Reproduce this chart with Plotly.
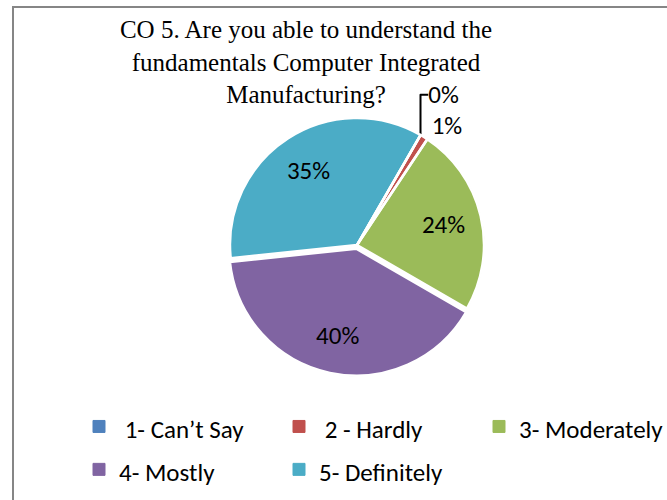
import plotly.graph_objects as go

labels = [" 1- Can\u2019t Say", " 2 - Hardly", "3- Moderately", "4- Mostly", "5- Definitely"]
values = [0, 1, 24, 40, 35]
colors = ["#4F81BD", "#C0504D", "#9BBB59", "#8064A2", "#4BACC6"]
title_text = "CO 5. Are you able to understand the<br>fundamentals Computer Integrated<br>Manufacturing?"

W, H = 667, 500
cx, cy, r = 357, 245, 127
pull = [0, 0, 0, 0.03, 0]
half = r * (1 + max(pull))
domain = dict(x=[(cx - half) / W, (cx + half) / W], y=[(H - cy - half) / H, (H - cy + half) / H])
sans = "Carlito, Lato, sans-serif"
legend_labels = ["<span style='font-size:25px'>%s</span>" % l for l in labels]
clear = ["rgba(0,0,0,0)"] * len(values)

common = dict(values=values, labels=legend_labels, sort=False, direction="clockwise",
              rotation=30, pull=pull, domain=domain)

fig = go.Figure()
# main pie: slices, legend and the two small outside labels
fig.add_trace(go.Pie(
    **common,
    marker=dict(colors=colors, line=dict(color=colors, width=1)),
    texttemplate="%{percent:.0%}",
    textposition=["outside", "outside", "none", "none", "none"],
    textfont=dict(family=sans, size=25, color="black"),
    showlegend=True,
    hoverinfo="percent",
))
# white slice separators
fig.add_trace(go.Pie(
    **common,
    marker=dict(colors=clear, line=dict(color="white", width=2.5)),
    textinfo="none",
    showlegend=False,
    hoverinfo="skip",
))
# transparent ring carrying the inside labels at ~0.7 r
fig.add_trace(go.Pie(
    **common,
    hole=0.4,
    marker=dict(colors=clear, line=dict(width=0)),
    texttemplate="%{percent:.0%}",
    textposition=["none", "none", "inside", "inside", "inside"],
    insidetextorientation="horizontal",
    textfont=dict(family=sans, size=25, color="black"),
    showlegend=False,
    hoverinfo="skip",
))

fig.update_layout(
    width=W, height=H,
    margin=dict(l=0, r=0, t=0, b=0, autoexpand=False),
    paper_bgcolor="white",
    title=dict(text=title_text, x=306 / W, xanchor="center", y=1 - 38 / H, yanchor="top",
               font=dict(family="Liberation Serif, Times New Roman, serif", size=25, color="black")),
    legend=dict(orientation="h", x=79 / W, xanchor="left", y=1 - 400 / H, yanchor="top",
                font=dict(family=sans, size=30.7, color="black"),
                entrywidth=155, entrywidthmode="pixels", traceorder="normal"),
    shapes=[dict(type="rect", xref="paper", yref="paper", x0=13 / W, x1=1.1, y0=-0.1, y1=1 - 7 / H,
                 line=dict(color="#868686", width=2), fillcolor="rgba(0,0,0,0)", layer="below")],
)

fig.write_html("out.html", config={"displayModeBar": False},
               post_script="document.body.style.margin='0px';")
